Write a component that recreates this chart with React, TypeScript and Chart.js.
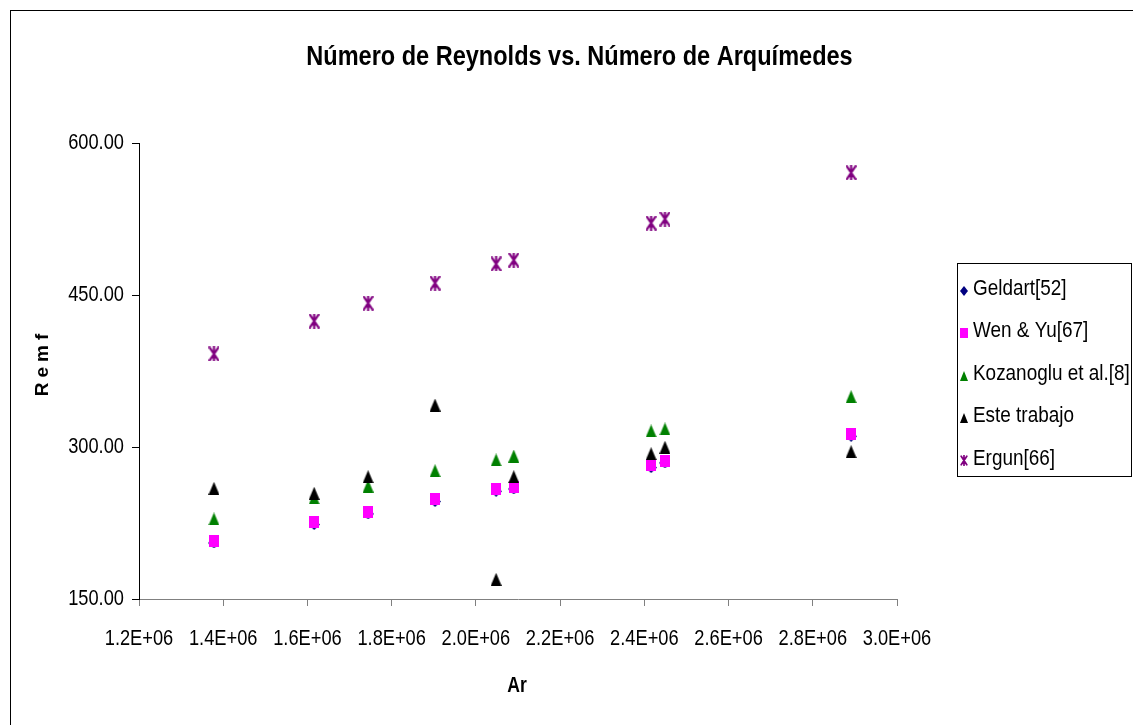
import React, { useEffect, useRef } from "react";
import { Chart, registerables } from "chart.js";

Chart.register(...registerables);

// ---- Data ----
const arValues = [1.378e6, 1.616e6, 1.744e6, 1.903e6, 2.048e6, 2.09e6, 2.416e6, 2.449e6, 2.891e6];
const geldart = [205.3, 223.5, 234.0, 246.2, 256.3, 258.6, 279.7, 284.3, 310.6];
const wenYu = [207.5, 225.7, 236.2, 248.4, 258.5, 260.8, 281.9, 286.5, 312.8];
const kozanoglu = [229.0, 249.7, 261.5, 276.6, 287.2, 291.1, 315.8, 317.8, 349.6];
const esteTrabajo = [259.2, 254.3, 270.7, 341.4, 169.4, 270.7, 293.4, 299.7, 295.4];
const ergun = [391.8, 424.3, 442.0, 461.8, 480.6, 484.5, 521.0, 525.0, 570.7];

const seriesLabels = ["Geldart[52]", "Wen & Yu[67]", "Kozanoglu et al.[8]", "Este trabajo", "Ergun[66]"];
const xTicks = [1.2e6, 1.4e6, 1.6e6, 1.8e6, 2.0e6, 2.2e6, 2.4e6, 2.6e6, 2.8e6, 3.0e6];
const yTicks = [150, 300, 450, 600];

const titleText = "Número de Reynolds vs. Número de Arquímedes";
const xTitle = "Ar";
const yTitle = "Remf";

const REG = "'Liberation Sans', Arial, sans-serif";

type Kind = "diamond" | "rect" | "tri" | "star";

function makeMarker(kind: Kind, color: string, w: number, h: number, lw = 2): HTMLCanvasElement {
  const c = document.createElement("canvas");
  c.width = w;
  c.height = h;
  const g = c.getContext("2d")!;
  g.fillStyle = color;
  g.strokeStyle = color;
  if (kind === "rect") {
    g.fillRect(0, 0, w, h);
  } else if (kind === "diamond") {
    g.beginPath();
    g.moveTo(w / 2, 0);
    g.lineTo(w, h / 2);
    g.lineTo(w / 2, h);
    g.lineTo(0, h / 2);
    g.closePath();
    g.fill();
  } else if (kind === "tri") {
    g.beginPath();
    g.moveTo(w / 2, 0);
    g.lineTo(w, h);
    g.lineTo(0, h);
    g.closePath();
    g.fill();
  } else {
    g.lineWidth = lw;
    g.lineCap = "round";
    g.beginPath();
    g.moveTo(w / 2, 0.5);
    g.lineTo(w / 2, h - 0.5);
    g.moveTo(1.2, 1.2);
    g.lineTo(w - 1.2, h - 1.2);
    g.moveTo(w - 1.2, 1.2);
    g.lineTo(1.2, h - 1.2);
    g.stroke();
  }
  return c;
}

function squeezeText(
  ctx: CanvasRenderingContext2D,
  text: string,
  x: number,
  y: number,
  font: string,
  align: CanvasTextAlign,
  sx: number
) {
  ctx.save();
  ctx.font = font;
  ctx.fillStyle = "#000000";
  ctx.textAlign = align;
  ctx.textBaseline = "middle";
  ctx.translate(x, y);
  ctx.scale(sx, 1);
  ctx.fillText(text, 0, 0);
  ctx.restore();
}

const toPts = (ys: number[]) => arValues.map((x, i) => ({ x, y: ys[i] }));
const fmtX = (v: number) => (v / 1e6).toFixed(1) + "E+06";
const fmtY = (v: number) => v.toFixed(2);

export default function App() {
  const ref = useRef<HTMLCanvasElement | null>(null);

  useEffect(() => {
    if (!ref.current) return;

    const styles: { kind: Kind; color: string; w: number; h: number; lw: number; lh: number }[] = [
      { kind: "diamond", color: "#000080", w: 11, h: 11, lw: 8, lh: 10 },
      { kind: "rect", color: "#FF00FF", w: 10, h: 12, lw: 8, lh: 10 },
      { kind: "tri", color: "#008000", w: 11, h: 13, lw: 8, lh: 10 },
      { kind: "tri", color: "#000000", w: 11, h: 13, lw: 8, lh: 10 },
      { kind: "star", color: "#800080", w: 11, h: 15, lw: 8, lh: 11 },
    ];
    const plotMarkers = styles.map((s) => makeMarker(s.kind, s.color, s.w, s.h, 2.2));
    const legendMarkers = styles.map((s) => makeMarker(s.kind, s.color, s.lw, s.lh, 1.7));
    const values = [geldart, wenYu, kozanoglu, esteTrabajo, ergun];

    const decor = {
      id: "decor",
      beforeDraw(chart: any) {
        const ctx = chart.ctx as CanvasRenderingContext2D;
        ctx.save();
        ctx.fillStyle = "#ffffff";
        ctx.fillRect(0, 0, chart.width, chart.height);
        ctx.restore();
      },
      afterDraw(chart: any) {
        const ctx = chart.ctx as CanvasRenderingContext2D;
        const xs = chart.scales.x;
        const ys = chart.scales.y;
        ctx.save();
        // outer frame
        ctx.strokeStyle = "#000000";
        ctx.lineWidth = 1;
        ctx.strokeRect(10.5, 10.5, 1400, 1000);
        ctx.restore();

        // title
        squeezeText(ctx, titleText, 579.5, 57, `bold 28px ${REG}`, "center", 0.84);
        // tick labels (positions from the library scales)
        xTicks.forEach((v) => {
          squeezeText(ctx, fmtX(v), xs.getPixelForValue(v), 639, `22px ${REG}`, "center", 0.83);
        });
        yTicks.forEach((v) => {
          squeezeText(ctx, fmtY(v), 124, ys.getPixelForValue(v), `22px ${REG}`, "right", 0.83);
        });
        // x title
        squeezeText(ctx, xTitle, 517, 686, `bold 22px ${REG}`, "center", 0.8);
        // y title
        ctx.save();
        ctx.translate(43, 365);
        ctx.rotate(-Math.PI / 2);
        ctx.font = `bold 19px ${REG}`;
        ctx.fillStyle = "#000000";
        ctx.textAlign = "center";
        ctx.textBaseline = "middle";
        (ctx as any).letterSpacing = "5px";
        ctx.fillText(yTitle, 2.5, 0);
        ctx.restore();

        // legend
        ctx.save();
        ctx.strokeStyle = "#000000";
        ctx.lineWidth = 1;
        ctx.strokeRect(957.5, 263.5, 174, 213);
        ctx.restore();
        chart.data.datasets.forEach((ds: any, i: number) => {
          const y = 288.5 + i * 42.5;
          const m = legendMarkers[i];
          ctx.drawImage(m, Math.round(964 - m.width / 2), Math.round(y + 2 - m.height / 2));
          squeezeText(ctx, ds.label, 973, y, `22px ${REG}`, "left", 0.86);
        });
      },
    };

    const chart = new Chart(ref.current, {
      type: "scatter",
      data: {
        datasets: seriesLabels.map((label, i) => ({
          label,
          data: toPts(values[i]),
          pointStyle: plotMarkers[i] as any,
          pointRadius: 6,
          showLine: false,
          order: 5 - i,
        })),
      },
      options: {
        animation: false,
        responsive: false,
        events: [],
        layout: { padding: { top: 143, right: 236, left: 0, bottom: 0 } },
        plugins: {
          legend: { display: false },
          title: { display: false },
          tooltip: { enabled: false },
        },
        scales: {
          x: {
            type: "linear",
            position: "bottom",
            min: 1.2e6,
            max: 3.0e6,
            afterBuildTicks: (s: any) => {
              s.ticks = xTicks.map((v) => ({ value: v }));
            },
            afterFit: (s: any) => {
              s.height = 126;
            },
            ticks: { display: false, autoSkip: false },
            grid: { drawOnChartArea: false, drawTicks: true, tickLength: 7, color: "#808080", lineWidth: 1 },
            border: { display: true, color: "#808080", width: 1 },
          },
          y: {
            type: "linear",
            min: 150,
            max: 600,
            afterBuildTicks: (s: any) => {
              s.ticks = yTicks.map((v) => ({ value: v }));
            },
            afterFit: (s: any) => {
              s.width = 139;
            },
            ticks: { display: false, autoSkip: false },
            grid: { drawOnChartArea: false, drawTicks: true, tickLength: 7, color: "#000000", lineWidth: 1 },
            border: { display: true, color: "#000000", width: 1 },
          },
        },
      },
      plugins: [decor],
    });

    return () => chart.destroy();
  }, []);

  return (
    <div style={{ position: "absolute", left: 0, top: 0, width: 1133, height: 725 }}>
      <canvas ref={ref} width={1133} height={725} style={{ display: "block" }} />
    </div>
  );
}
